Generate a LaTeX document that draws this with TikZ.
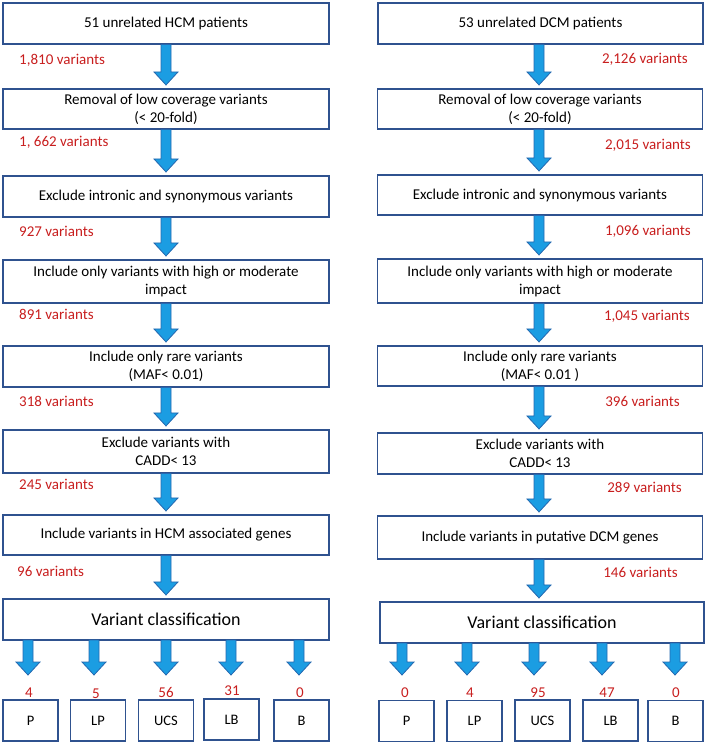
\documentclass[tikz,border=0pt]{standalone}
\usepackage{fontspec}
\setmainfont{Carlito}
\usetikzlibrary{calc}
\definecolor{boxblue}{RGB}{47,82,143}
\definecolor{arrfill}{RGB}{27,157,226}
\definecolor{arrline}{RGB}{36,104,176}
\definecolor{redtxt}{RGB}{200,30,30}
\tikzset{
  box/.style={draw=boxblue, line width=1.1pt, fill=white, minimum width=326, minimum height=41, align=center, inner sep=0pt, font=\fontsize{15}{18}\selectfont},
  smallbox/.style={draw=boxblue, line width=1.1pt, fill=white, minimum width=55, minimum height=41, inner sep=0pt, font=\fontsize{14.5}{17}\selectfont},
  count/.style={text=redtxt, font=\fontsize{15}{18}\selectfont, inner sep=0pt},
  num/.style={text=redtxt, font=\fontsize{15}{18}\selectfont, inner sep=0pt, anchor=base},
  barrow/.style={draw=arrline, fill=arrfill, line width=0.8pt, line join=miter}
}
\newcommand\blockarr[2]{%
  \path[barrow] let \p1=(#1), \p2=(#2) in
  (\x2-5pt,\y1) -- (\x2+5pt,\y1) -- (\x2+5pt,\y2+13pt) -- (\x2+12pt,\y2+13pt)
  -- (\x2,\y2) -- (\x2-12pt,\y2+13pt) -- (\x2-5pt,\y2+13pt) -- cycle;}
\begin{document}
\begin{tikzpicture}[x=1pt,y=-1pt]
\useasboundingbox (0,0) rectangle (709,745);
% ---------------- left column ----------------
\node[box] (L1) at (166,23.5) {51 unrelated HCM patients};
\node[box, minimum height=40] (L2) at (166,109) {Removal of low coverage variants\\(< 20-fold)};
\node[box] (L3) at (166,196.5) {Exclude intronic and synonymous variants};
\node[box, minimum height=43] (L4) at (166,281.5) {Include only variants with high or moderate\\impact};
\node[box] (L5) at (166,366.5) {Include only rare variants\\(MAF< 0.01)};
\node[box, minimum height=43] (L6) at (166,451.5) {Exclude variants with\\CADD< 13};
\node[box, minimum height=40] (L7) at (166,535) {Include variants in HCM associated genes};
\node[box, font=\fontsize{18}{22}\selectfont] (L8) at (166,619.5) {Variant classification};

\node[count, anchor=west] (lc1) at (19,60) {1,810 variants};
\node[count, anchor=west] (lc2) at (19,142) {1, 662 variants};
\node[count, anchor=west] (lc3) at (19,231) {927 variants};
\node[count, anchor=west] (lc4) at (19,314) {891 variants};
\node[count, anchor=west] (lc5) at (19,401) {318 variants};
\node[count, anchor=west] (lc6) at (19,484) {245 variants};
\node[count, anchor=west] (lc7) at (17,571) {96 variants};

\blockarr{L1.south}{[yshift=3.5pt]L2.north}
\blockarr{L2.south}{[yshift=3.5pt]L3.north}
\blockarr{L3.south}{[yshift=3.5pt]L4.north}
\blockarr{L4.south}{[yshift=3.5pt]L5.north}
\blockarr{L5.south}{[yshift=3.5pt]L6.north}
\blockarr{L6.south}{[yshift=3.5pt]L7.north}
\blockarr{L7.south}{[yshift=3.5pt]L8.north}

\node[smallbox] (LP1) at (30.5,720.5) {P};
\node[smallbox] (LP2) at (98,720.5) {LP};
\node[smallbox] (LP3) at (166,720.5) {UCS};
\node[smallbox] (LP4) at (231.5,719.5) {LB};
\node[smallbox] (LP5) at (301.5,720.5) {B};

\node[num] (ln1) at (29,697) {4};
\node[num] (ln2) at (96,698) {5};
\node[num] (ln3) at (166,697) {56};
\node[num] (ln4) at (232,695) {31};
\node[num] (ln5) at (300,697) {0};

\coordinate (ls1) at (28,640); \coordinate (lt1) at (28,675);
\coordinate (ls2) at (94,640); \coordinate (lt2) at (94,675);
\coordinate (ls3) at (166,640); \coordinate (lt3) at (166,675);
\coordinate (ls4) at (231,640); \coordinate (lt4) at (231,675);
\coordinate (ls5) at (299,640); \coordinate (lt5) at (299,675);
\blockarr{ls1}{lt1}
\blockarr{ls2}{lt2}
\blockarr{ls3}{lt3}
\blockarr{ls4}{lt4}
\blockarr{ls5}{lt5}

% ---------------- right column ----------------
\node[box, minimum width=325] (R1) at (540.5,23.5) {53 unrelated DCM patients};
\node[box, minimum width=325, minimum height=40] (R2) at (540,109) {Removal of low coverage variants\\(< 20-fold)};
\node[box, minimum width=325, minimum height=40] (R3) at (540,195) {Exclude intronic and synonymous variants};
\node[box, minimum width=325, minimum height=44] (R4) at (540,281) {Include only variants with high or moderate\\impact};
\node[box, minimum width=325, minimum height=40] (R5) at (540,366) {Include only rare variants\\(MAF< 0.01 )};
\node[box, minimum width=325] (R6) at (540,453.5) {Exclude variants with\\CADD< 13};
\node[box, minimum width=325, minimum height=43] (R7) at (540,537.5) {Include variants in putative DCM genes};
\node[box, minimum width=324, font=\fontsize{18}{22}\selectfont] (R8) at (542,622.5) {Variant classification};

\node[count, anchor=east] (rc1) at (688,59) {2,126 variants};
\node[count, anchor=east] (rc2) at (691,145) {2,015 variants};
\node[count, anchor=east] (rc3) at (691,231) {1,096 variants};
\node[count, anchor=east] (rc4) at (690,316) {1,045 variants};
\node[count, anchor=east] (rc5) at (680,401) {396 variants};
\node[count, anchor=east] (rc6) at (682,487) {289 variants};
\node[count, anchor=east] (rc7) at (678,572) {146 variants};

\blockarr{[xshift=-1pt]R1.south}{[xshift=-1pt,yshift=3.5pt]R2.north}
\blockarr{[xshift=-1pt]R2.south}{[xshift=-1pt,yshift=3.5pt]R3.north}
\blockarr{[xshift=-1pt]R3.south}{[xshift=-1pt,yshift=3.5pt]R4.north}
\blockarr{[xshift=-1pt]R4.south}{[xshift=-1pt,yshift=3.5pt]R5.north}
\blockarr{[xshift=-1pt]R5.south}{[xshift=-1pt,yshift=3.5pt]R6.north}
\blockarr{[xshift=-1pt]R6.south}{[xshift=-1pt,yshift=3.5pt]R7.north}
\blockarr{[xshift=-3pt]R7.south}{[xshift=-3pt,yshift=3.5pt]R8.north}

\node[smallbox] (RP1) at (406.5,721) {P};
\node[smallbox] (RP2) at (474.5,721) {LP};
\node[smallbox] (RP3) at (542.5,720.5) {UCS};
\node[smallbox] (RP4) at (610.5,720.5) {LB};
\node[smallbox] (RP5) at (675.5,721) {B};

\node[num] (rn1) at (405,697) {0};
\node[num] (rn2) at (470,697) {4};
\node[num] (rn3) at (538,697) {95};
\node[num] (rn4) at (607,697) {47};
\node[num] (rn5) at (676,697) {0};

\coordinate (rs1) at (402,643); \coordinate (rt1) at (402,675);
\coordinate (rs2) at (467,643); \coordinate (rt2) at (467,675);
\coordinate (rs3) at (534,643); \coordinate (rt3) at (534,675);
\coordinate (rs4) at (602,643); \coordinate (rt4) at (602,675);
\coordinate (rs5) at (675,643); \coordinate (rt5) at (675,675);
\blockarr{rs1}{rt1}
\blockarr{rs2}{rt2}
\blockarr{rs3}{rt3}
\blockarr{rs4}{rt4}
\blockarr{rs5}{rt5}
\end{tikzpicture}
\end{document}
